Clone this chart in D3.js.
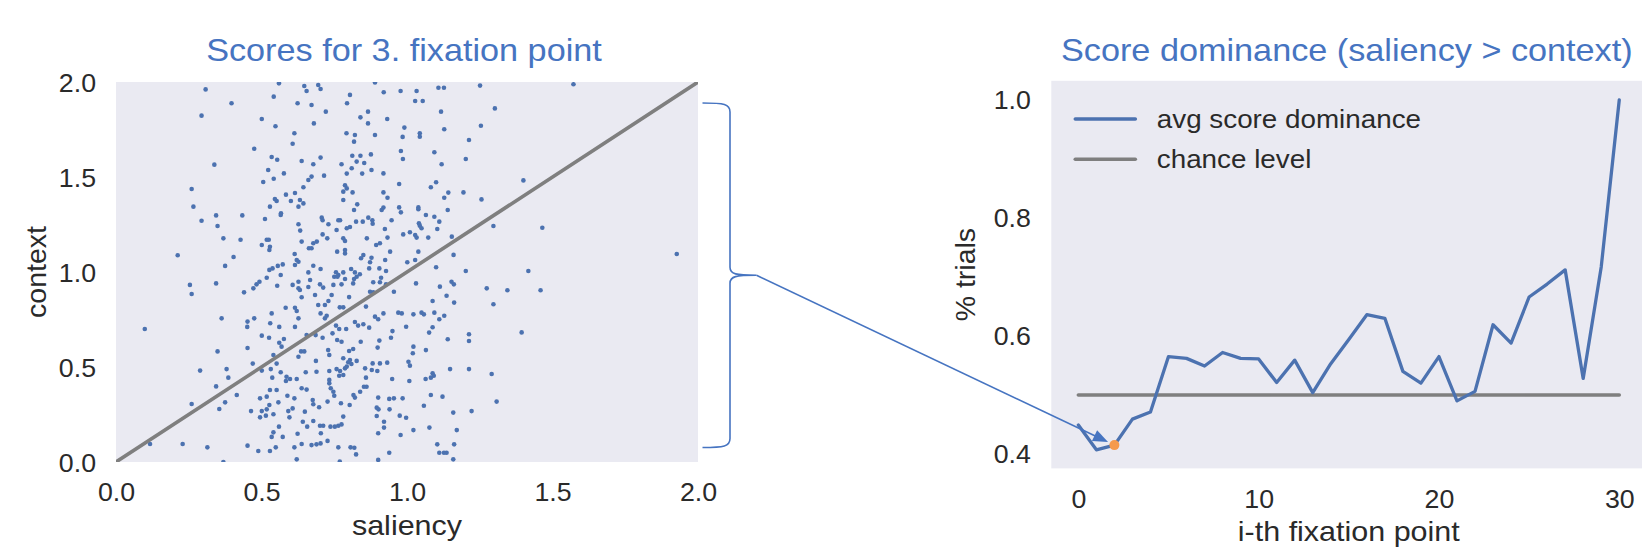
<!DOCTYPE html>
<html>
<head>
<meta charset="utf-8">
<script src="https://cdn.jsdelivr.net/npm/d3@7/dist/d3.min.js"></script>
<style>
  html, body { margin: 0; padding: 0; background: #ffffff; }
  svg { display: block; font-family: "Liberation Sans", Arial, sans-serif; }
  /* the figure's lettering is slightly wider than plain Arial */
  .wide-mid   { transform-box: fill-box; transform-origin: center;       transform: scaleX(1.07); }
  .wide-end   { transform-box: fill-box; transform-origin: right center; transform: scaleX(1.07); }
  .wide-start { transform-box: fill-box; transform-origin: left center;  transform: scaleX(1.07); }
</style>
</head>
<body>
<svg id="chart" width="1642" height="554"></svg>
<script>
// ---- scores of every trial at the 3rd fixation point ----
const saliencyScores = [
  0.308,0.397,0.294,0.542,0.560,0.647,0.655,0.624,0.501,0.548,
  0.613,0.607,0.475,0.535,0.554,0.638,0.338,0.523,0.577,0.542,
  0.506,0.661,0.644,0.260,0.584,0.615,0.552,0.546,0.601,0.632,
  0.644,0.627,0.266,0.529,0.567,0.566,0.294,0.344,0.434,0.512,
  0.349,0.627,0.633,0.369,0.428,0.518,0.525,0.501,0.529,0.527,
  0.638,0.663,0.212,0.404,0.614,0.621,0.627,0.615,0.375,0.573,
  0.556,0.538,0.527,0.518,0.566,0.661,0.493,0.483,0.472,0.440,
  0.254,0.260,0.344,0.554,0.607,0.627,0.627,0.632,0.661,0.638,
  0.583,0.615,0.535,0.621,0.363,0.475,0.627,0.452,0.451,0.530,
  0.561,0.615,0.099,0.501,0.526,0.577,0.561,0.569,0.655,0.452,
  0.349,0.636,0.647,0.627,0.541,0.470,0.552,0.289,0.380,0.501,
  0.532,0.566,0.386,0.537,0.586,0.598,0.621,0.584,0.652,0.344,
  0.638,0.655,0.529,0.552,0.415,0.260,0.375,0.355,0.495,0.518,
  0.589,0.613,0.527,0.558,0.607,0.464,0.501,0.518,0.495,0.515,
  0.541,0.592,0.596,0.649,0.642,0.657,0.560,0.541,0.535,0.573,
  0.624,0.117,0.229,0.314,0.452,0.549,0.613,0.638,0.489,0.529,
  0.369,0.621,
  0.695,0.703,0.804,0.890,0.920,0.978,1.033,1.108,1.127,1.251,
  1.302,0.672,0.794,1.028,1.054,0.721,0.840,0.866,0.932,1.117,
  0.680,0.866,1.254,0.991,1.128,0.792,0.821,0.818,0.890,0.985,
  1.044,1.044,1.213,0.979,0.986,1.094,0.812,0.840,0.876,0.703,
  1.202,0.827,0.853,0.678,1.119,0.775,0.810,0.878,0.919,0.793,
  0.846,0.715,0.672,0.973,1.100,1.082,0.787,0.793,0.781,0.813,
  0.919,0.933,1.194,1.142,1.128,1.256,0.781,0.829,0.919,0.913,
  0.973,1.039,1.039,0.979,1.140,0.818,1.065,1.094,0.707,0.710,
  0.764,0.770,0.867,0.881,0.882,0.825,0.848,0.947,1.041,1.044,
  1.050,1.111,1.104,1.297,0.804,0.793,0.730,0.924,1.154,0.710,
  0.726,0.758,0.781,0.787,0.987,1.010,1.028,1.033,1.073,0.862,
  0.933,0.894,0.690,0.678,0.672,0.907,0.787,0.787,0.760,1.039,
  1.160,0.842,0.850,0.878,0.925,0.942,1.028,1.001,0.678,0.703,
  0.756,0.764,0.750,0.761,0.781,0.787,0.808,0.821,0.818,0.827,
  0.838,0.873,0.870,0.905,0.928,0.911,0.884,0.815,1.100,1.202,
  0.667,0.701,0.712,0.775,0.747,0.907,0.928,0.873,0.884,0.955,
  1.031,1.113,1.153,1.161,1.274,0.684,0.741,0.801,1.136,1.162,
  1.297,1.088,0.695,0.718,0.730,0.769,0.781,0.859,0.919,0.970,
  0.982,1.022,1.050,1.058,1.094,1.111,1.128,0.703,0.724,0.718,
  0.890,0.901,0.821,0.832,0.850,0.767,0.756,0.744,0.710,0.686,
  0.791,0.870,0.950,0.997,1.088,1.076,0.760,0.775,0.841,0.905,
  0.945,1.213,1.213,1.140,0.801,0.815,0.729,0.733,0.899,1.022,
  1.020,1.065,0.804,0.798,0.809,0.687,0.781,0.827,0.882,0.907,
  0.932,1.005,1.010,0.689,0.733,0.758,0.770,0.787,0.793,0.856,
  0.879,0.898,1.148,1.213,1.291,1.088,1.092,1.082,0.767,0.781,
  0.859,0.949,1.008,1.064,0.733,0.733,0.738,0.852,0.861,0.747,
  0.750,0.839,0.816,0.821,0.901,1.082,1.122,0.939,0.985,0.955,
  1.308,0.676,0.678,0.698,0.727,0.773,0.803,0.896,0.902,1.058,
  0.940,1.222,1.159,0.781,0.896,0.975,0.997,0.678,0.701,0.712,
  0.737,0.752,0.764,0.775,0.921,0.921,1.022,1.077,1.171,0.901,
  0.978,0.704,0.672,0.703,0.689,0.727,0.764,0.806,0.819,0.825,
  0.939,1.104,1.111,1.127,1.136,1.162,1.159,0.901,0.769,
  1.572,1.400,1.465,1.927,1.417,1.345,1.459,1.394
];

const contextScores = [
  1.961,1.888,1.823,1.923,1.993,1.979,1.953,1.888,1.805,1.767,
  1.730,1.675,1.649,1.605,1.591,1.584,1.565,1.537,1.519,1.491,
  1.474,1.484,1.446,1.437,1.407,1.416,1.374,1.384,1.374,1.379,
  1.361,1.344,1.344,1.344,1.309,1.300,1.270,1.298,1.298,1.279,
  1.242,1.251,1.218,1.177,1.170,1.170,1.170,1.142,1.133,1.116,
  1.160,1.125,1.088,1.079,1.095,1.063,1.054,1.037,1.032,1.040,
  1.032,1.019,1.011,0.970,0.984,0.998,0.949,0.935,0.914,0.893,
  0.932,0.884,0.940,0.928,0.932,0.949,0.914,0.905,0.921,0.867,
  0.812,0.812,0.782,0.795,0.756,0.756,0.756,0.739,0.711,0.730,
  0.711,0.711,0.700,0.665,0.654,0.647,0.628,0.607,0.668,0.600,
  0.582,0.582,0.582,0.554,0.563,0.518,0.518,0.481,0.489,0.481,
  0.489,0.472,0.444,0.444,0.449,0.437,0.437,0.426,0.472,0.398,
  0.388,0.381,0.379,0.379,0.353,0.305,0.314,0.279,0.335,0.344,
  0.349,0.335,0.300,0.314,0.282,0.268,0.268,0.277,0.235,0.244,
  0.251,0.268,0.235,0.265,0.212,0.186,0.186,0.156,0.132,0.132,
  0.149,0.095,0.095,0.077,0.086,0.077,0.077,0.095,0.058,0.058,
  0.000,0.014,
  1.984,1.963,1.932,1.998,1.946,1.953,1.953,1.970,1.970,1.981,
  1.861,1.879,1.888,1.900,1.900,1.844,1.814,1.844,1.805,1.844,
  1.782,1.782,1.770,1.760,1.751,1.730,1.721,1.686,1.721,1.711,
  1.730,1.712,1.695,1.637,1.595,1.630,1.612,1.612,1.619,1.602,
  1.595,1.581,1.574,1.567,1.567,1.567,1.546,1.537,1.519,1.518,
  1.518,1.507,1.502,1.463,1.472,1.446,1.456,1.440,1.423,1.419,
  1.419,1.391,1.419,1.418,1.391,1.382,1.379,1.356,1.339,1.326,
  1.340,1.340,1.330,1.314,1.326,1.326,1.300,1.291,1.286,1.272,
  1.272,1.272,1.286,1.272,1.254,1.265,1.265,1.272,1.256,1.244,
  1.230,1.265,1.226,1.242,1.237,1.230,1.251,1.226,1.186,1.198,
  1.177,1.221,1.177,1.163,1.198,1.209,1.195,1.181,1.181,1.177,
  1.181,1.142,1.160,1.151,1.125,1.151,1.116,1.098,1.107,1.107,
  1.090,1.072,1.089,1.075,1.063,1.107,1.063,1.051,1.033,1.016,
  0.999,0.984,0.975,0.975,0.998,0.963,1.016,0.998,0.963,0.975,
  0.988,1.051,1.019,1.019,1.005,0.970,0.946,0.940,1.025,1.005,
  0.958,0.935,0.918,0.935,0.932,0.946,0.935,0.896,0.893,0.896,
  0.940,0.923,0.949,0.935,0.914,0.879,0.879,0.868,0.875,0.839,
  0.830,0.847,0.826,0.826,0.847,0.814,0.814,0.818,0.782,0.786,
  0.782,0.777,0.786,0.777,0.786,0.751,0.770,0.782,0.770,0.756,
  0.765,0.751,0.737,0.718,0.725,0.700,0.718,0.677,0.654,0.668,
  0.700,0.707,0.689,0.712,0.709,0.681,0.642,0.633,0.633,0.639,
  0.654,0.672,0.637,0.646,0.584,0.595,0.589,0.563,0.602,0.607,
  0.572,0.589,0.537,0.525,0.516,0.532,0.546,0.532,0.519,0.519,
  0.523,0.528,0.507,0.475,0.479,0.489,0.479,0.493,0.502,0.493,
  0.484,0.479,0.489,0.489,0.463,0.467,0.454,0.444,0.454,0.458,
  0.444,0.437,0.426,0.437,0.432,0.414,0.388,0.396,0.396,0.370,
  0.349,0.370,0.353,0.339,0.339,0.353,0.344,0.332,0.335,0.335,
  0.318,0.326,0.304,0.288,0.318,0.309,0.300,0.286,0.277,0.296,
  0.277,0.268,0.260,0.239,0.242,0.244,0.233,0.216,0.191,0.191,
  0.186,0.186,0.191,0.198,0.212,0.181,0.168,0.181,0.168,0.151,
  0.142,0.151,0.089,0.098,0.093,0.111,0.077,0.077,0.075,0.040,
  0.049,0.093,0.049,0.049,0.049,0.093,0.014,0.011,0.002,
  1.988,1.482,1.233,1.095,1.005,0.904,0.904,0.682
];

// reference diagonal: saliency == context
const diagonalEnds = [0, 2];

// ---- share of trials where saliency beats context, per fixation ----
const fixationIndex = [0,1,2,3,4,5,6,7,8,9,10,11,12,13,14,15,16,17,18,19,20,21,22,23,24,25,26,27,28,29,30];
const avgDominance = [
  0.449,0.407,0.415,0.459,0.471,0.565,0.562,0.549,0.572,0.562,
  0.561,0.521,0.559,0.504,0.553,0.594,0.636,0.630,0.540,0.520,
  0.565,0.490,0.506,0.619,0.588,0.666,0.688,0.712,0.528,0.717,
  1.000
];
const chanceLevel = 0.5;
const chanceSpan = [0, 30];
const highlightedFixation = 2;   // "3. fixation point"

// ---- tick labels ----
const scoreTicks = [0, 0.5, 1.0, 1.5, 2.0];
const fixationTicks = [0, 10, 20, 30];
const trialTicks = [0.4, 0.6, 0.8, 1.0];

// ---- styling ----
const BG = "#eaeaf2";
const BLUE = "#4c72b0";
const GREY = "#7f7f7f";
const ACCENT = "#4674c1";
const ORANGE = "#f59a4c";
const INK = "#2a2a2a";

const svg = d3.select("#chart");

// ===================== left panel: scatter =====================
const L = { left: 116, right: 698, top: 82, bottom: 462 };
const xS = d3.scaleLinear().domain([0, 2]).range([L.left, L.right]);
const yS = d3.scaleLinear().domain([0, 2]).range([L.bottom, L.top]);

svg.append("rect")
  .attr("x", L.left).attr("y", L.top)
  .attr("width", L.right - L.left).attr("height", L.bottom - L.top)
  .attr("fill", BG);

svg.append("clipPath").attr("id", "clipL")
  .append("rect")
  .attr("x", L.left).attr("y", L.top)
  .attr("width", L.right - L.left).attr("height", L.bottom - L.top);

const nDots = Math.min(saliencyScores.length, contextScores.length);
svg.append("g").attr("clip-path", "url(#clipL)")
  .selectAll("circle")
  .data(d3.range(nDots))
  .join("circle")
  .attr("cx", i => xS(saliencyScores[i]))
  .attr("cy", i => yS(contextScores[i]))
  .attr("r", 2.3)
  .attr("fill", BLUE);

svg.append("line")
  .attr("clip-path", "url(#clipL)")
  .attr("x1", xS(diagonalEnds[0])).attr("y1", yS(diagonalEnds[0]))
  .attr("x2", xS(diagonalEnds[1])).attr("y2", yS(diagonalEnds[1]))
  .attr("stroke", GREY).attr("stroke-width", 3.6).attr("stroke-linecap", "round");

function styleAxis(g, cls) {
  g.select(".domain").remove();
  g.selectAll(".tick line").remove();
  g.attr("font-family", null).attr("font-size", null);
  g.selectAll(".tick text")
    .attr("class", cls)
    .attr("fill", INK)
    .style("font-size", "25px");
}

svg.append("g")
  .attr("transform", `translate(0,${L.bottom})`)
  .call(d3.axisBottom(xS).tickValues(scoreTicks).tickFormat(d3.format(".1f")).tickSize(0).tickPadding(21.5))
  .call(g => styleAxis(g, "wide-mid"));

svg.append("g")
  .attr("transform", `translate(${L.left},0)`)
  .call(d3.axisLeft(yS).tickValues(scoreTicks).tickFormat(d3.format(".1f")).tickSize(0).tickPadding(20))
  .call(g => styleAxis(g, "wide-end"))
  .call(g => g.selectAll(".tick text").attr("dy", "0.36em"));

svg.append("text")
  .attr("class", "wide-mid")
  .attr("x", (L.left + L.right) / 2 - 3).attr("y", 61)
  .attr("text-anchor", "middle")
  .attr("fill", ACCENT).style("font-size", "32px")
  .text("Scores for 3. fixation point");

svg.append("text")
  .attr("class", "wide-mid")
  .attr("x", (L.left + L.right) / 2).attr("y", L.bottom + 73)
  .attr("text-anchor", "middle")
  .attr("fill", INK).style("font-size", "28.5px")
  .text("saliency");

svg.append("text")
  .attr("transform", `translate(${L.left - 70},${(L.top + L.bottom) / 2}) rotate(-90)`)
  .attr("text-anchor", "middle")
  .attr("fill", INK).style("font-size", "28.5px")
  .text("context");

// ===================== right panel: dominance line =====================
const R = { left: 1051.3, right: 1646.3, top: 80.8, bottom: 468.4 };
const xR = d3.scaleLinear().domain([-1.5, 31.5]).range([R.left, R.right]);
const yR = d3.scaleLinear().domain([0.3755, 1.0325]).range([R.bottom, R.top]);

svg.append("rect")
  .attr("x", R.left).attr("y", R.top)
  .attr("width", R.right - R.left).attr("height", R.bottom - R.top)
  .attr("fill", BG);

svg.append("line")
  .attr("x1", xR(chanceSpan[0])).attr("y1", yR(chanceLevel))
  .attr("x2", xR(chanceSpan[1])).attr("y2", yR(chanceLevel))
  .attr("stroke", GREY).attr("stroke-width", 3.6).attr("stroke-linecap", "round");

const dominanceLine = d3.line()
  .x((d, i) => xR(fixationIndex[i]))
  .y(d => yR(d));

svg.append("path")
  .attr("d", dominanceLine(avgDominance))
  .attr("fill", "none")
  .attr("stroke", BLUE).attr("stroke-width", 3.3)
  .attr("stroke-linejoin", "round").attr("stroke-linecap", "round");

const dotX = xR(fixationIndex[highlightedFixation]);
const dotY = yR(avgDominance[highlightedFixation]);
svg.append("circle")
  .attr("cx", dotX).attr("cy", dotY).attr("r", 5)
  .attr("fill", ORANGE);

svg.append("g")
  .attr("transform", `translate(0,${R.bottom})`)
  .call(d3.axisBottom(xR).tickValues(fixationTicks).tickFormat(d3.format("d")).tickSize(0).tickPadding(21.5))
  .call(g => styleAxis(g, "wide-mid"));

svg.append("g")
  .attr("transform", `translate(${R.left},0)`)
  .call(d3.axisLeft(yR).tickValues(trialTicks).tickFormat(d3.format(".1f")).tickSize(0).tickPadding(20.5))
  .call(g => styleAxis(g, "wide-end"))
  .call(g => g.selectAll(".tick text").attr("dy", "0.36em"));

svg.append("text")
  .attr("class", "wide-mid")
  .attr("x", (R.left + R.right) / 2 - 2).attr("y", 61)
  .attr("text-anchor", "middle")
  .attr("fill", ACCENT).style("font-size", "32px")
  .text("Score dominance (saliency > context)");

svg.append("text")
  .attr("class", "wide-mid")
  .attr("x", (R.left + R.right) / 2).attr("y", R.bottom + 73)
  .attr("text-anchor", "middle")
  .attr("fill", INK).style("font-size", "28.5px")
  .text("i-th fixation point");

svg.append("text")
  .attr("transform", `translate(${R.left - 76},${(R.top + R.bottom) / 2}) rotate(-90)`)
  .attr("text-anchor", "middle")
  .attr("fill", INK).style("font-size", "28.5px")
  .text("% trials");

// legend
const legendItems = [
  { label: "avg score dominance", color: BLUE },
  { label: "chance level", color: GREY }
];
const legend = svg.append("g").attr("transform", `translate(${R.left + 24},119)`);
legendItems.forEach((d, i) => {
  const row = legend.append("g").attr("transform", `translate(0,${i * 40.3})`);
  row.append("line")
    .attr("x1", 0).attr("x2", 60).attr("y1", 0).attr("y2", 0)
    .attr("stroke", d.color).attr("stroke-width", 3.6).attr("stroke-linecap", "round");
  row.append("text")
    .attr("class", "wide-start")
    .attr("x", 81.5).attr("y", 0).attr("dy", "0.34em")
    .attr("fill", INK).style("font-size", "26px")
    .text(d.label);
});

// ===================== brace + arrow linking the panels =====================
const braceTop = L.top + 21, braceBottom = L.bottom - 14.5;
const braceMid = (braceTop + braceBottom) / 2;
const bx0 = L.right + 4.5, bSpine = L.right + 32, bTip = L.right + 58.5;

const brace = d3.path();
brace.moveTo(bx0, braceTop);
brace.bezierCurveTo(bSpine - 6, braceTop, bSpine, braceTop + 1, bSpine, braceTop + 9);
brace.lineTo(bSpine, braceMid - 8);
brace.bezierCurveTo(bSpine, braceMid - 1, bSpine + 6, braceMid, bTip, braceMid);
brace.bezierCurveTo(bSpine + 6, braceMid, bSpine, braceMid + 1, bSpine, braceMid + 8);
brace.lineTo(bSpine, braceBottom - 9);
brace.bezierCurveTo(bSpine, braceBottom - 1, bSpine - 6, braceBottom, bx0, braceBottom);

svg.append("path")
  .attr("d", brace.toString())
  .attr("fill", "none").attr("stroke", ACCENT).attr("stroke-width", 1.6);

// arrow from the brace tip to the highlighted fixation
const ux = dotX - bTip, uy = dotY - braceMid;
const len = Math.hypot(ux, uy);
const dx = ux / len, dy = uy / len;
const tipX = dotX - 7 * dx, tipY = dotY - 7 * dy;
const headLen = 15, headHalf = 6;
const baseX = tipX - headLen * dx, baseY = tipY - headLen * dy;

svg.append("line")
  .attr("x1", bTip).attr("y1", braceMid)
  .attr("x2", baseX + 2 * dx).attr("y2", baseY + 2 * dy)
  .attr("stroke", ACCENT).attr("stroke-width", 1.6);

svg.append("path")
  .attr("d", `M${tipX},${tipY} L${baseX - headHalf * dy},${baseY + headHalf * dx} L${baseX + headHalf * dy},${baseY - headHalf * dx} Z`)
  .attr("fill", ACCENT);
</script>
</body>
</html>
